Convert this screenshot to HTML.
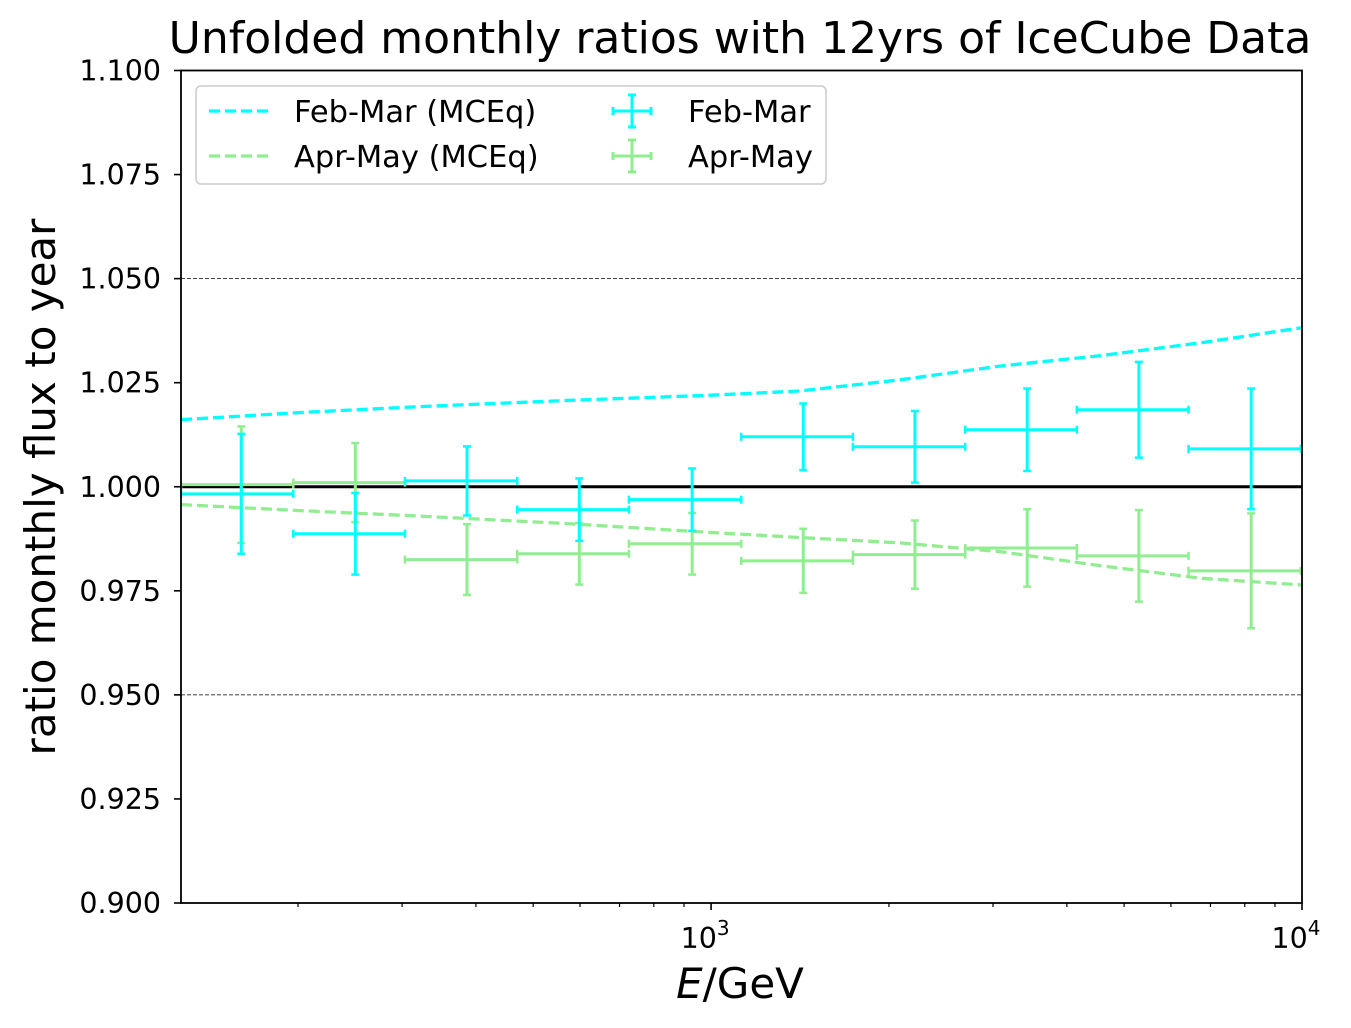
<!DOCTYPE html>
<html><head><meta charset="utf-8"><style>
html,body{margin:0;padding:0;background:#fff;}
svg{display:block;font-family:"DejaVu Sans","Liberation Sans",sans-serif;}
</style></head><body>
<svg id="chart" width="1351" height="1028" viewBox="0 0 1351 1028" xmlns="http://www.w3.org/2000/svg"></svg>
<script>
// ---- data ----
const binEdgesLog = [2.103, 2.293, 2.482, 2.672, 2.861, 3.051, 3.240, 3.430, 3.619, 3.808, 3.998];
const binCentersLog = [2.205, 2.398, 2.587, 2.777, 2.968, 3.156, 3.345, 3.535, 3.724, 3.914];
const febMarValues = [0.9983, 0.9887, 1.0014, 0.9945, 0.9969, 1.0120, 1.0096, 1.0137, 1.0185, 1.0091];
const febMarErrors = [0.0144, 0.0098, 0.0083, 0.0075, 0.0075, 0.0080, 0.0086, 0.0099, 0.0115, 0.0145];
const aprMayValues = [1.0005, 1.0010, 0.9825, 0.9839, 0.9863, 0.9822, 0.9837, 0.9853, 0.9834, 0.9798];
const aprMayErrors = [0.0140, 0.0095, 0.0085, 0.0074, 0.0074, 0.0077, 0.0082, 0.0093, 0.0110, 0.0138];
const modelLogE = [2.103, 2.3, 2.5, 2.75, 3.0, 3.15, 3.32, 3.49, 3.66, 3.83, 4.0];
const febMarModel = [1.0161, 1.0178, 1.0192, 1.0207, 1.0220, 1.0230, 1.0257, 1.0290, 1.0315, 1.0346, 1.0382];
const aprMayModel = [0.9957, 0.9943, 0.9930, 0.9912, 0.9890, 0.9878, 0.9865, 0.9844, 0.9810, 0.9780, 0.9764];
const yTicks = [0.900, 0.925, 0.950, 0.975, 1.000, 1.025, 1.050, 1.075, 1.100];

// ---- axes ----
const L=181, R=1302, T=70.5, B=903;
const xMinLog=2.103, xMaxLog=4.0;
const X = lg => L + (lg - xMinLog)/(xMaxLog - xMinLog)*(R-L);
const Y = v => B - (v-0.9)/(0.2)*(B-T);
const svg=document.getElementById('chart');
const NS='http://www.w3.org/2000/svg';
function el(tag, attrs, parent){const e=document.createElementNS(NS,tag);for(const k in attrs)e.setAttribute(k,attrs[k]);(parent||svg).appendChild(e);return e;}

el('rect',{x:0,y:0,width:1351,height:1028,fill:'#fff'});
const clip=el('clipPath',{id:'pc'});el('rect',{x:L,y:T,width:R-L,height:B-T},clip);

[0.95,1.05].forEach(v=>{
  const g=el('line',{x1:L,x2:R,y1:Y(v),y2:Y(v),stroke:'#000','stroke-width':0.8,'stroke-dasharray':'4,2'});
  
  
});
const ref=el('line',{x1:L,x2:R,y1:Y(1),y2:Y(1),stroke:'#000','stroke-width':3});



const plot=el('g',{'clip-path':'url(#pc)'});



function model(vals,color,name){
  const d=modelLogE.map((lg,i)=>(i?'L':'M')+X(lg).toFixed(1)+','+Y(vals[i]).toFixed(1)).join(' ');
  const p=el('path',{d,fill:'none',stroke:color,'stroke-width':3.3,'stroke-dasharray':'11,5'},plot);
  
  
}
model(aprMayModel,'#90ee90','apr-may-model-line');
model(febMarModel,'#00ffff','feb-mar-model-line');

function points(vals,errs,color,name){
  vals.forEach((v,i)=>{
    const g=el('g',{stroke:color,'stroke-width':3},plot);
    
    
    const x0=X(binEdgesLog[i]),x1=X(binEdgesLog[i+1]),xc=X(binCentersLog[i]);
    const y=Y(v),yt=Y(v+errs[i]),yb=Y(v-errs[i]);
    el('line',{x1:x0,x2:x1,y1:y,y2:y},g);
    el('line',{x1:xc,x2:xc,y1:yt,y2:yb},g);
    el('line',{x1:xc-4,x2:xc+4,y1:yt,y2:yt,'stroke-width':2.5},g);
    el('line',{x1:xc-4,x2:xc+4,y1:yb,y2:yb,'stroke-width':2.5},g);
    el('line',{x1:x0,x2:x0,y1:y-4,y2:y+4,'stroke-width':2.5},g);
    el('line',{x1:x1,x2:x1,y1:y-4,y2:y+4,'stroke-width':2.5},g);
  });
}
points(aprMayValues,aprMayErrors,'#90ee90','apr-may');
points(febMarValues,febMarErrors,'#00ffff','feb-mar');

el('rect',{x:L,y:T,width:R-L,height:B-T,fill:'none',stroke:'#000','stroke-width':1.8});

yTicks.forEach(v=>{
  el('line',{x1:L-7,x2:L,y1:Y(v),y2:Y(v),stroke:'#000','stroke-width':1.6});
  const t=el('text',{x:L-20,y:Y(v)+10,'text-anchor':'end','font-size':28.5});
  t.textContent=v.toFixed(3);
  
  
});
for(let dec=2;dec<=3;dec++){for(let m=2;m<=9;m++){const lg=dec+Math.log10(m);if(lg<xMinLog)continue;
  el('line',{x1:X(lg),x2:X(lg),y1:B,y2:B+4,stroke:'#000','stroke-width':1.2});}}
[3,4].forEach(p=>{
  el('line',{x1:X(p),x2:X(p),y1:B,y2:B+7,stroke:'#000','stroke-width':1.6});
  const t=el('text',{x:X(p)-6,y:B+45,'text-anchor':'middle','font-size':28.5});
  t.innerHTML='10<tspan dy="-13" font-size="20">'+p+'</tspan>';
  
  
});

let t=el('text',{x:740,y:53,'text-anchor':'middle','font-size':44});
t.textContent='Unfolded monthly ratios with 12yrs of IceCube Data';


t=el('text',{x:740,y:998,'text-anchor':'middle','font-size':42});
t.innerHTML='<tspan font-style="italic">E</tspan>/GeV';


t=el('text',{x:0,y:0,'text-anchor':'middle','font-size':42,transform:'translate(55,487) rotate(-90)'});
t.textContent='ratio monthly flux to year';



const lg=el('g',{});


el('rect',{x:196,y:86,width:630,height:98,rx:5,fill:'#fff','fill-opacity':0.8,stroke:'#ccc','stroke-width':1.5},lg);
function legDash(y,c,label){
  el('line',{x1:209,x2:270,y1:y,y2:y,stroke:c,'stroke-width':3.3,'stroke-dasharray':'11,5'},lg);
  const tt=el('text',{x:294,y:y+11,'font-size':30.5},lg);tt.textContent=label;
  
  
}
function legErr(y,c,label){
  const g=el('g',{stroke:c,'stroke-width':3},lg);
  el('line',{x1:613,x2:651,y1:y,y2:y},g);el('line',{x1:632,x2:632,y1:y-16,y2:y+16},g);
  el('line',{x1:628,x2:636,y1:y-16,y2:y-16},g);el('line',{x1:628,x2:636,y1:y+16,y2:y+16},g);
  el('line',{x1:613,x2:613,y1:y-4,y2:y+4},g);el('line',{x1:651,x2:651,y1:y-4,y2:y+4},g);
  const tt=el('text',{x:688,y:y+11,'font-size':30.5},lg);tt.textContent=label;
  
  
}
legDash(111,'#00ffff','Feb-Mar (MCEq)');
legDash(156,'#90ee90','Apr-May (MCEq)');
legErr(111,'#00ffff','Feb-Mar');
legErr(156,'#90ee90','Apr-May');
</script>
</body></html>
